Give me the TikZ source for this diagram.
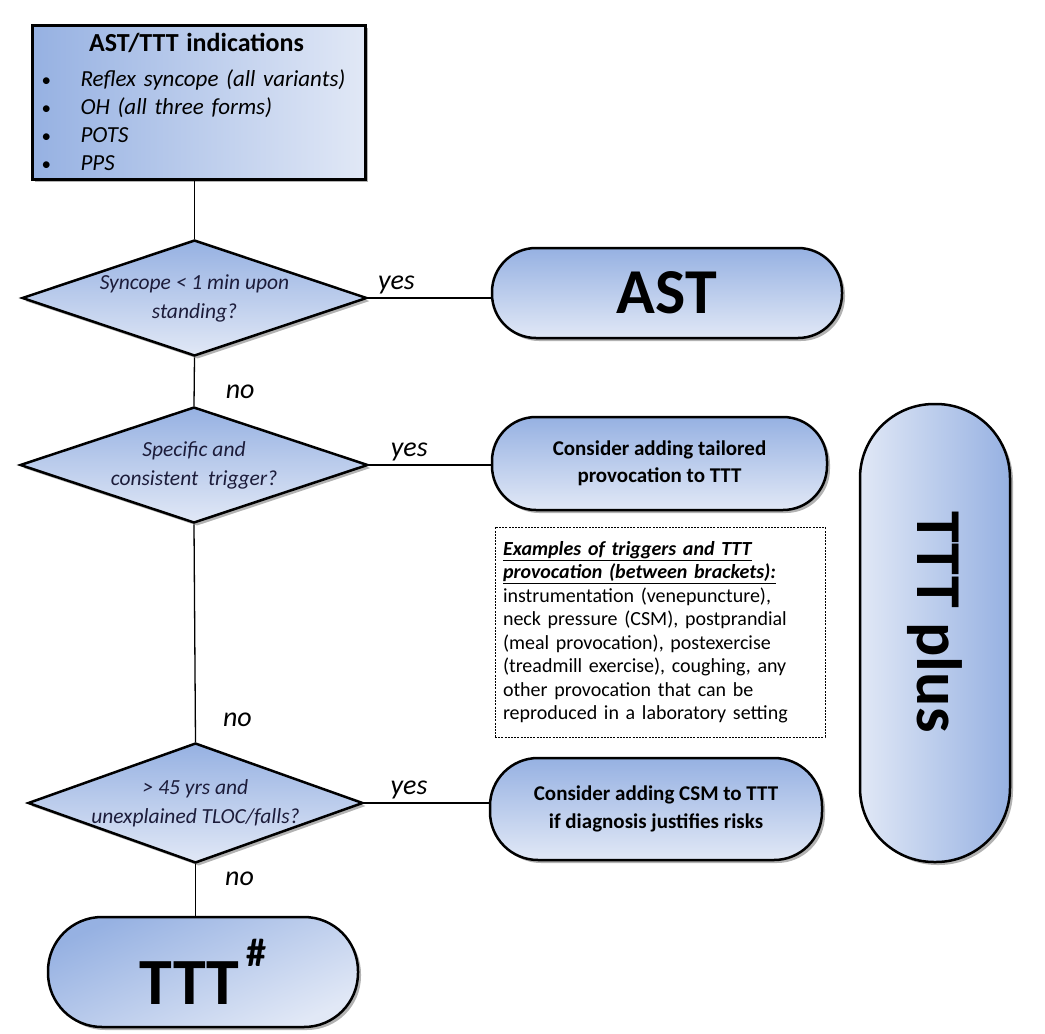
\documentclass[tikz,border=0pt]{standalone}
\usepackage{fontspec}
\setmainfont{Carlito}
\usepackage{graphicx}
\usetikzlibrary{shapes.geometric,shadows}
\definecolor{bdark}{RGB}{150,177,226}
\definecolor{blight}{RGB}{225,232,246}
\definecolor{navy}{RGB}{28,28,58}
\newcommand{\bul}{\makebox[41pt][l]{\hspace{2pt}{\fontsize{19}{19}\selectfont\textbullet}}}
\begin{document}
\begin{tikzpicture}[x=1pt,y=-1pt,
  shadowed/.style={drop shadow={shadow xshift=3pt,shadow yshift=-3pt,opacity=0.3,fill=black}},
  topbox/.style={draw,line width=3pt,rectangle,left color=bdark,right color=blight,
    minimum width=333pt,minimum height=154pt,inner sep=0pt,text width=318pt,align=left,
    font=\fontsize{23}{28}\selectfont,shadowed},
  decision/.style={draw,line width=2.5pt,diamond,inner sep=0pt,top color=bdark,bottom color=blight,shadowed},
  dtext/.style={text=navy,align=center,font=\itshape\fontsize{21.5}{29}\selectfont},
  pill/.style={draw,line width=2.5pt,rectangle,top color=bdark,bottom color=blight,inner sep=0pt,align=center,shadowed},
  dashbox/.style={draw,line width=0.8pt,dash pattern=on 2pt off 1.2pt,rectangle,fill=white,
    minimum width=330pt,minimum height=210pt,inner xsep=8pt,inner ysep=0pt,text width=314pt,align=left,
    font=\fontsize{20}{23.5}\selectfont},
  conn/.style={draw,line width=1.3pt},
  yeslab/.style={font=\itshape\fontsize{28}{28}\selectfont,anchor=south,inner sep=0pt,yshift=3pt},
  nolab/.style={font=\itshape\fontsize{28}{28}\selectfont,anchor=west,inner sep=0pt}
]
\useasboundingbox (0,0) rectangle (1045,1034);

% top box
\node[topbox] (top) at (198.5,102) {%
  \makebox[314pt][c]{\bfseries\fontsize{26}{28}\selectfont AST/TTT indications}\\[7pt]
  \bul\textit{Reflex syncope (all variants)}\\
  \bul\textit{OH (all three forms)}\\
  \bul\textit{POTS}\\
  \bul\textit{PPS}};

% decisions
\node[decision,minimum width=345pt,minimum height=116pt,
  label={[dtext]center:{Syncope < 1 min upon\\standing?}}] (d1) at (194.5,298) {};
\node[decision,minimum width=348pt,minimum height=116pt,
  label={[dtext]center:{Specific and\\consistent\ \ trigger?}}] (d2) at (194,465) {};
\node[decision,minimum width=335pt,minimum height=120pt,
  label={[dtext]center:{> 45 yrs and\\unexplained TLOC/falls?}}] (d3) at (195.5,803) {};

% outcomes
\node[pill,minimum width=350pt,minimum height=90pt,rounded corners=44pt,
  font=\bfseries\fontsize{64}{64}\selectfont] (ast) at (667,293) {AST};
\node[pill,minimum width=335pt,minimum height=93pt,rounded corners=44pt,
  font=\bfseries\fontsize{21}{27}\selectfont] (tail) at (659.5,463.5)
  {Consider adding tailored\\provocation to TTT};
\node[dashbox] (ex) at (660,632) {%
  \textbf{\textit{\underline{Examples of triggers and TTT}}}\\
  \textbf{\textit{\underline{provocation (between brackets):}}}\\
  instrumentation (venepuncture),\\
  neck pressure (CSM), postprandial\\
  (meal provocation), postexercise\\
  (treadmill exercise), coughing, any\\
  other provocation that can be\\
  reproduced in a laboratory setting};
\node[pill,minimum width=332pt,minimum height=102pt,rounded corners=48pt,
  font=\bfseries\fontsize{21}{28}\selectfont] (csm) at (656,809)
  {Consider adding CSM to TTT\\if diagnosis justifies risks};
\node[pill,left color=blight,right color=bdark,minimum width=150pt,minimum height=458pt,
  rounded corners=74pt] (plus) at (935,633)
  {\raisebox{0pt}{\rotatebox{-90}{\bfseries\fontsize{64}{64}\selectfont TTT plus\hspace{22pt}}}};
\node[pill,top color=bdark,bottom color=blight,shading angle=25,minimum width=310pt,
  minimum height=110pt,rounded corners=54pt] (ttt) at (203,972)
  {\bfseries\fontsize{66}{66}\selectfont TTT\hspace{7pt}\raisebox{38pt}{\fontsize{40}{40}\selectfont\#}};

% connectors
\draw[conn] (d1.north |- top.south) -- (d1.north);
\draw[conn] (d1.east) -- node[yeslab,pos=0.23] {yes} (d1.east -| ast.west);
\draw[conn] (d1.south) -- node[nolab,pos=0.71,xshift=31pt] {no} (d2.north);
\draw[conn] (d2.east) -- node[yeslab,pos=0.33] {yes} (d2.east -| tail.west);
\draw[conn] (d2.south) -- node[nolab,pos=0.9,xshift=27pt] {no} (d3.north);
\draw[conn] (d3.east) -- node[yeslab,pos=0.36] {yes} (d3.east -| csm.west);
\draw[conn] (d3.south) -- node[nolab,pos=0.28,xshift=29pt] {no} (d3.south |- ttt.north);
\end{tikzpicture}
\end{document}
